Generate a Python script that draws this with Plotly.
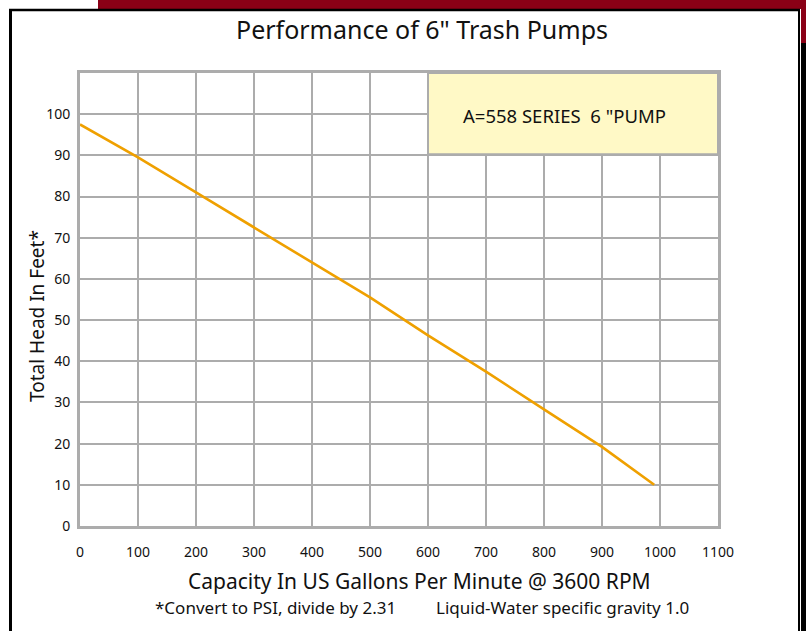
import plotly.graph_objects as go

# Data
capacity_gpm = [0, 100, 200, 300, 400, 500, 600, 700, 800, 900, 990]
head_ft = [97.5, 89.5, 81, 72.5, 64, 55.5, 46.3, 37.5, 28.3, 19.2, 10]

x_ticks = [0, 100, 200, 300, 400, 500, 600, 700, 800, 900, 1000, 1100]
y_ticks = [0, 10, 20, 30, 40, 50, 60, 70, 80, 90, 100, 110]
y_tick_labels = ["0", "10", "20", "30", "40", "50", "60", "70", "80", "90", "100", ""]

legend_text = 'A=558 SERIES\u00a0\u00a06\u00a0"PUMP'
title_text = 'Performance of 6" Trash Pumps'
x_title = "Capacity In US Gallons Per Minute @ 3600 RPM"
note_left = "*Convert to PSI, divide by 2.31"
note_right = "Liquid-Water specific gravity 1.0"
y_title = "Total Head In Feet*"

W, H = 806, 631
L, R, T, B = 80, 88, 73, 105
PW, PH = W - L - R, H - T - B

def px(x):
    return (x - L) / PW

def py(y):
    return (H - B - y) / PH

FONT = "Noto Sans"
GRID = "#acacac"
TXT = "#111111"

fig = go.Figure()
fig.add_trace(go.Scatter(x=capacity_gpm, y=head_ft, mode="lines",
                         line=dict(color="#EFA000", width=2.6),
                         showlegend=False, hoverinfo="skip"))

shapes = [
    # decorative page frame
    dict(type="rect", xref="paper", yref="paper", x0=px(98), x1=px(806), y0=py(0), y1=py(9),
         fillcolor="#8A0016", line=dict(width=0), layer="above"),
    dict(type="rect", xref="paper", yref="paper", x0=px(801), x1=px(806), y0=py(0), y1=py(43),
         fillcolor="#8A0016", line=dict(width=0), layer="above"),
    dict(type="rect", xref="paper", yref="paper", x0=px(801), x1=px(806), y0=py(43), y1=py(640),
         fillcolor="#000000", line=dict(width=0), layer="above"),
    dict(type="line", xref="paper", yref="paper", x0=px(10.5), x1=px(10.5), y0=py(9), y1=py(640),
         line=dict(color="#000000", width=3), layer="above"),
    dict(type="line", xref="paper", yref="paper", x0=px(9), x1=px(800), y0=py(10), y1=py(10),
         line=dict(color="#000000", width=2.5), layer="above"),
    dict(type="line", xref="paper", yref="paper", x0=px(799), x1=px(799), y0=py(9), y1=py(640),
         line=dict(color="#000000", width=2), layer="above"),
    # legend box
    dict(type="rect", xref="x", yref="y", x0=600, x1=1100, y0=90.3, y1=110,
         fillcolor="#FFF9C6", line=dict(color=GRID, width=2), layer="above"),
]

annotations = [
    dict(text=legend_text, xref="paper", yref="y", x=px(461), y=99.6, xanchor="left", yanchor="middle",
         showarrow=False, font=dict(family=FONT, size=18.5, color=TXT)),
    dict(text=title_text, xref="paper", yref="paper", x=px(422), y=py(29),
         xanchor="center", yanchor="middle", showarrow=False,
         font=dict(family=FONT, size=25, color=TXT)),
    dict(text=x_title, xref="paper", yref="paper", x=px(419), y=py(581),
         xanchor="center", yanchor="middle", showarrow=False,
         font=dict(family=FONT, size=21, color=TXT)),
    dict(text=note_left, xref="paper", yref="paper", x=px(153), y=py(607),
         xanchor="left", yanchor="middle", showarrow=False,
         font=dict(family=FONT, size=17, color=TXT)),
    dict(text=note_right, xref="paper", yref="paper", x=px(691), y=py(607),
         xanchor="right", yanchor="middle", showarrow=False,
         font=dict(family=FONT, size=17, color=TXT)),
    dict(text=y_title, xref="paper", yref="paper", x=px(37), y=py(316),
         xanchor="center", yanchor="middle", textangle=-90, showarrow=False,
         font=dict(family=FONT, size=19, color=TXT)),
]

fig.update_layout(
    width=W, height=H,
    margin=dict(l=L, r=R, t=T, b=B, pad=0),
    paper_bgcolor="white", plot_bgcolor="white",
    shapes=shapes, annotations=annotations,
    xaxis=dict(range=[0, 1100], tickvals=x_ticks, ticktext=[str(v) for v in x_ticks],
               showgrid=True, gridcolor=GRID, gridwidth=2, zeroline=False,
               showline=True, linecolor=GRID, linewidth=3, mirror=True,
               ticks="", ticklabelstandoff=11,
               tickfont=dict(family=FONT, size=14, color=TXT)),
    yaxis=dict(range=[0, 110], tickvals=y_ticks, ticktext=y_tick_labels,
               showgrid=True, gridcolor=GRID, gridwidth=2, zeroline=False,
               showline=True, linecolor=GRID, linewidth=3, mirror=True,
               ticks="", ticklabelstandoff=4,
               tickfont=dict(family=FONT, size=14, color=TXT)),
)

fig.write_html("out.html", config={"displayModeBar": False},
               post_script="document.body.style.margin='0';")
